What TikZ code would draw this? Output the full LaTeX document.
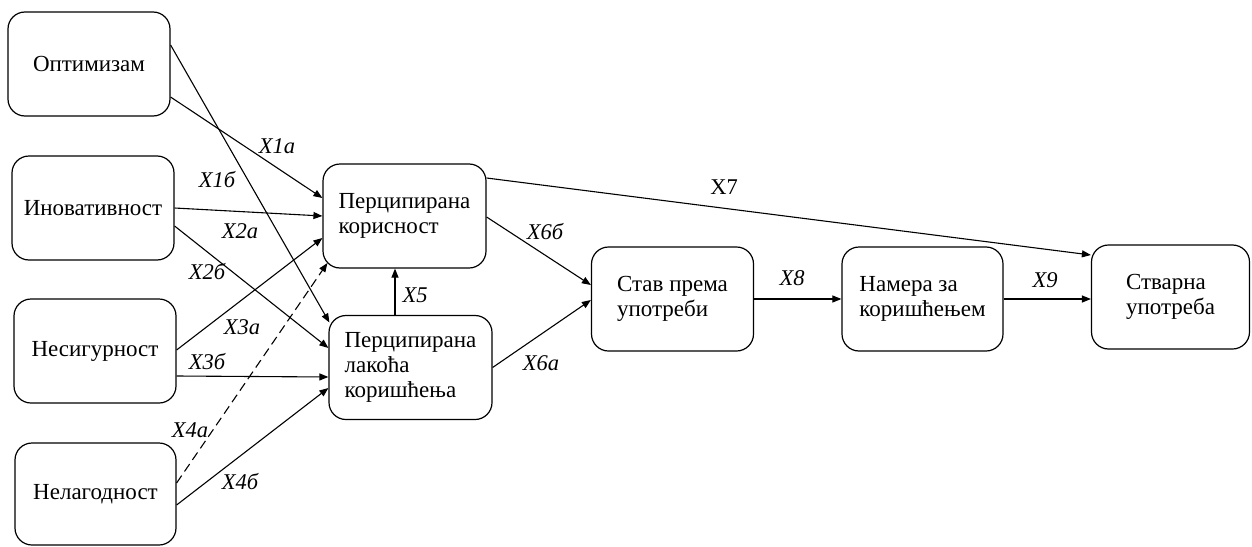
\documentclass[tikz,border=0pt]{standalone}
\usepackage{fontspec}
\setmainfont{Liberation Serif}
\usetikzlibrary{arrows.meta}
\begin{document}
\begin{tikzpicture}[x=1pt,y=-1pt,
  box/.style={draw, line width=1.2pt, rounded corners=17pt, align=left,
    inner sep=0pt, font=\fontsize{23}{25}\selectfont},
  lbl/.style={font=\fontsize{22.5}{23}\selectfont\itshape, inner sep=0pt},
  arr/.style={line width=1.1pt, -{Triangle[length=9pt,width=7pt]}}]
\useasboundingbox (0,0) rectangle (1252,546);

% factors on the left
\node[box, minimum width=162pt, minimum height=104pt] (opt)   at (89,64)    {Оптимизам};
\node[box, minimum width=162pt, minimum height=104pt] (inov)  at (93,208)   {Иновативност};
\node[box, minimum width=162pt, minimum height=104pt] (nesig) at (95,351)   {Несигурност};
\node[box, minimum width=161pt, minimum height=102pt] (nelag) at (95.5,494) {Нелагодност};

% perceptions
\node[box, minimum width=163pt, minimum height=104pt] (kor) at (404.5,216)   {Перципирана\\корисност};
\node[box, minimum width=163pt, minimum height=104pt] (lak) at (410.5,367.5) {Перципирана\\лакоћа\\коришћења};

% attitude, intention, use
\node[box, minimum width=162pt, minimum height=104pt] (stav) at (672.5,299) {Став према\\употреби};
\node[box, minimum width=161pt, minimum height=104pt] (nam)  at (922.5,299) {Намера за\\коришћењем};
\node[box, minimum width=158pt, minimum height=104pt] (stv)  at (1170.5,297) {Стварна\\употреба};

% paths into the perceptions
\draw[arr] ([yshift=-33pt]opt.east) -- ([yshift=18pt]kor.west);
\draw[arr] ([yshift=19pt]opt.east) -- ([xshift=1pt,yshift=45pt]lak.west);
\draw[arr] (inov.east) -- (kor.west);
\draw[arr] ([yshift=-18pt]inov.east) -- ([yshift=19.5pt]lak.west);
\draw[arr] ([yshift=1pt]nesig.east) -- ([yshift=-22pt]kor.west);
\draw[arr] ([yshift=-25pt]nesig.east) -- ([yshift=-9.5pt]lak.west);
\draw[arr, dashed, dash pattern=on 9pt off 5pt] ([yshift=11pt]nelag.east) -- ([xshift=5pt,yshift=-47pt]kor.west);
\draw[arr] ([yshift=-11pt]nelag.east) -- ([yshift=-20.5pt]lak.west);
\coordinate (x5s) at ([xshift=-15.5pt]lak.north);
\draw[arr] (x5s) -- (x5s |- kor.south);

% paths to attitude and use
\draw[arr] ([yshift=38pt]kor.east) -- ([yshift=42pt]stv.west);
\draw[arr] ([yshift=-1pt]kor.east) -- ([yshift=14pt]stav.west);
\draw[arr] (lak.east) -- ([yshift=-1pt]stav.west);
\draw[arr] (stav.east) -- (nam.west);
\draw[arr] (nam.east) -- (nam.east -| stv.west);

% path labels
\node[lbl] (l1a) at (277,146) {X1а};
\node[lbl] (l1b) at (217,180) {X1б};
\node[lbl] (l2a) at (240,231) {X2а};
\node[lbl] (l2b) at (207,272) {X2б};
\node[lbl] (l3a) at (242,327) {X3а};
\node[lbl] (l3b) at (207,362) {X3б};
\node[lbl] (l4a) at (190,430) {X4а};
\node[lbl] (l4b) at (240,482) {X4б};
\node[lbl] (l5)  at (415,295) {X5};
\node[lbl] (l6b) at (545,232) {X6б};
\node[lbl] (l6a) at (541,363) {X6а};
\node[lbl, font=\fontsize{22.5}{23}\selectfont] (l7) at (724,187) {X7};
\node[lbl] (l8)  at (792,278) {X8};
\node[lbl] (l9)  at (1045,280) {X9};
\end{tikzpicture}
\end{document}
